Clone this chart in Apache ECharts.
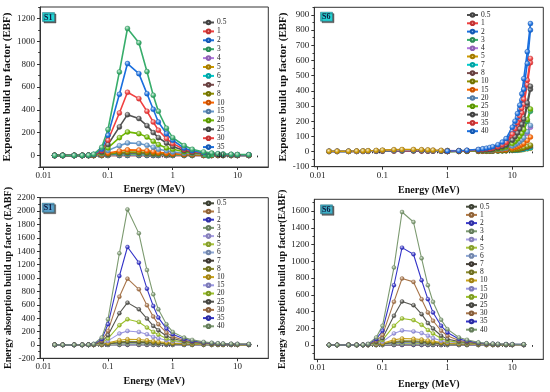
<!DOCTYPE html>
<html><head><meta charset="utf-8">
<script src="https://cdn.jsdelivr.net/npm/echarts@6/dist/echarts.min.js"></script>
<style>html,body{margin:0;padding:0;background:#fff}#c{width:550px;height:392px}</style>
</head><body><div id="c"></div>
<script>
// ---------- energies (MeV) ----------
const energy = [0.015,0.02,0.03,0.04,0.05,0.06,0.08,0.1,0.15,0.2,0.3,0.4,0.5,0.6,0.8,1,1.5,2,3,4,5,6,8,10,15];
const energyS6EBF = [0.015,0.02,0.03,0.04,0.05,0.06,0.08,0.1,0.15,0.2,0.3,0.4,0.5,0.6,0.8,
                     1,1.5,2,3,3.5,4,4.5,5,6,7,8,10,11,12,13,14,15,17,19];
// ---------- legend labels (mfp) ----------
const mfpFull = ['0.5','1','2','3','4','5','6','7','8','10','15','20','25','30','35','40'];
const mfpS6EBF = ['0.5','1','2','3','4','5','7','8','10','15','20','25','30','35','40'];
// ---------- tick labels ----------
const xTickValues = [0.01,0.1,1,10];
const yTicksS1EBF = [0,200,400,600,800,1000,1200];
const yTicksS6EBF = [-100,0,100,200,300,400,500,600,700,800,900];
const yTicksS1EABF = [-200,0,200,400,600,800,1000,1200,1400,1600,1800,2000,2200];
const yTicksS6EABF = [0,200,400,600,800,1000,1200,1400,1600];

// ---------- S1 EBF (rows follow mfpFull) ----------
const S1_EBF = [
 [1,1,1,1.01,1.03,1.06,1.15,1.3,1.4,1.45,1.45,1.42,1.4,1.38,1.35,1.33,1.28,1.25,1.2,1.18,1.16,1.15,1.13,1.12,1.1],
 [1,1,1.01,1.02,1.05,1.12,1.3,1.6,1.8,1.9,1.9,1.85,1.8,1.75,1.7,1.65,1.55,1.5,1.4,1.35,1.3,1.3,1.25,1.2,1.2],
 [1,1,1.02,1.04,1.1,1.25,1.7,2.5,3,3.2,3.2,3.1,3,2.9,2.7,2.5,2.3,2.2,2,1.9,1.8,1.7,1.6,1.5,1.4],
 [1,1,1.03,1.06,1.15,1.4,2.2,3.8,5,5.3,5.3,5.1,4.8,4.5,4.1,3.7,3.2,3,2.7,2.4,2.3,2.1,1.9,1.8,1.7],
 [1,1,1.03,1.08,1.2,1.5,2.8,5.3,7.6,8.2,8.1,7.6,7,6.4,5.6,5,4.2,3.8,3.3,2.9,2.7,2.5,2.2,2.1,1.9],
 [1,1,1.04,1.1,1.25,1.7,3.5,7.3,11,12,11.8,11,9.8,8.8,7.5,6.5,5.2,4.6,3.9,3.4,3.1,2.8,2.5,2.3,2.1],
 [1,1,1.05,1.1,1.3,1.9,4.2,9.5,15,17,16.5,15,13,11.5,9.5,8,6.3,5.5,4.6,3.9,3.5,3.1,2.8,2.6,2.4],
 [1,1,1.05,1.1,1.35,2.1,5,12,20,23,22,20,17,15,12,10,7.5,6.5,5.3,4.5,3.9,3.5,3.1,2.8,2.6],
 [1,1,1.05,1.15,1.4,2.4,6,15,26,31,30,27,23,19,15,12,9,7.5,6,5,4.3,3.9,3.4,3.1,2.8],
 [1,1,1.1,1.2,1.5,3,8,22,40,50,48,42,35,28,22,17,12,10,8,6,5,4.6,4,3.6,3.2],
 [1,1,1.1,1.2,1.7,4,14,45,87,111,105,90,73,56,42,32,21,16,11,9,7,6,5,4.5,4],
 [1,1,1.1,1.3,1.9,5,22,67,157,207,192,163,125,96,67,55,33,23,15,11,9,7,6,5.5,5],
 [1,1,1.1,1.3,2.1,6.5,31,96,251,358,324,262,201,157,110,80,44,29,18,13,10,8,7,6,5.5],
 [1,1,1.1,1.4,2.4,8,42,134,373,554,498,388,294,222,149,105,54,35,21,15,11,9,8,7,6],
 [1,1,1.2,1.4,2.7,10,55,178,536,805,717,542,405,294,192,134,65,42,24,17,13,11,9,8,7],
 [1,1,1.2,1.5,3,12,72,228,732,1112,987,735,528,388,240,157,88,55,32,22,17,14,11,9,8]
];
// ---------- S6 EBF (rows follow mfpS6EBF, null = not plotted) ----------
const S6_EBF = [
 [1,1,1,1.1,1.2,1.4,1.8,2.2,2.6,2.8,2.8,2.6,2.4,2.2,2, 2,2.5,4,7,9,11,13,15,21,28,38,68,90,112,138,165,200,300,410],
 [1,1,1.1,1.2,1.4,1.8,2.5,3.2,4,4.3,4.3,4,3.6,3.2,2.8, 2.8,3,5,9,11,14,17,20,28,39,54,100,135,170,210,255,310,440,585],
 [1,1,1.1,1.3,1.7,2.3,3.4,4.6,6,6.5,6.5,6,5.4,4.8,4, 4,4.5,6,11,14,17,21,26,36,50,70,135,180,225,280,340,410,580,800],
 [1,1,1.2,1.5,2,2.9,4.4,6,8,8.7,8.7,8,7.2,6.3,5.2, 5,4.5,4.5,5,7,8,10,12,15,21,27,48,61,76,93,112,135,198,265],
 [1,1.1,1.3,1.7,2.4,3.5,5.5,7.5,10,11,11,10,9,7.8,6.4, 6,5,4.5,4.5,5,6,7,9,12,15,20,33,41,50,60,72,85,120,160],
 [1.5,1.8,2.2,3,4,5,7,9,12,13,13,12,10.5,9,7.5, 6,5,4,3.5,3.5,3.5,3.5,3.5,4,4.5,5,7,8,9,10,12,14,18,22],
 [null,null,null,null,null,null,null,null,null,null,null,null,null,null,null, 1,1.2,1.5,2,2.5,3,3,3.5,4,5,6,8,9,10,12,14,16,20,25],
 [null,null,null,null,null,null,null,null,null,null,null,null,null,null,null, 1,1.5,2,2.5,3,3,3.5,4,5,6,7,10,12,14,16,19,22,28,35],
 [null,null,null,null,null,null,null,null,null,null,null,null,null,null,null, 1,1.5,2,2.5,3,3.5,4,4.5,5.5,7,8,12,14,16,19,22,26,34,42],
 [null,null,null,null,null,null,null,null,null,null,null,null,null,null,null, 1,1.5,2,3,4,5,6,7,9,11,14,22,27,32,38,45,53,73,95],
 [null,null,null,null,null,null,null,null,null,null,null,null,null,null,null, 1,2,3,5,6,7,8,10,13,17,22,36,45,55,66,78,92,130,172],
 [null,null,null,null,null,null,null,null,null,null,null,null,null,null,null, 1,2,4,6,8,9,11,13,17,23,30,52,66,82,100,120,145,210,280],
 [null,null,null,null,null,null,null,null,null,null,null,null,null,null,null, 2,3,5,8,10,12,14,17,23,31,42,75,98,122,150,180,215,320,430],
 [null,null,null,null,null,null,null,null,null,null,null,null,null,null,null, 2,4,6,10,13,16,19,23,32,44,60,115,150,190,235,285,345,470,613],
 [null,null,null,null,null,null,null,null,null,null,null,null,null,null,null, 3,5,8,14,18,22,27,32,45,62,85,160,200,250,305,380,480,657,843]
];
// ---------- S1 EABF (rows follow mfpFull) ----------
const S1_EABF = [
 [1,1,1,1.01,1.03,1.07,1.2,1.4,1.6,1.7,1.7,1.65,1.6,1.58,1.54,1.5,1.44,1.4,1.35,1.3,1.28,1.26,1.23,1.21,1.19],
 [1,1,1.01,1.02,1.05,1.15,1.4,1.8,2.4,2.6,2.6,2.5,2.4,2.3,2.2,2.1,1.9,1.8,1.7,1.6,1.5,1.5,1.4,1.4,1.3],
 [1,1,1.02,1.04,1.1,1.3,1.9,2.9,4.5,5,4.9,4.7,4.4,4.1,3.8,3.5,3.1,2.8,2.5,2.3,2.1,2,1.9,1.8,1.7],
 [1,1,1.03,1.06,1.15,1.5,2.6,4.5,8,9,8.9,8.3,7.6,7,6.2,5.5,4.6,4.1,3.5,3.1,2.9,2.7,2.4,2.2,2.1],
 [1,1,1.03,1.08,1.2,1.7,3.4,6.5,13,15,14.5,13.5,12,10.5,9,7.8,6.3,5.5,4.6,4,3.6,3.3,2.9,2.7,2.5],
 [1,1,1.04,1.1,1.3,2,4.4,9,19,23,22,20,17.5,15,12.5,10.5,8.2,7,5.8,5,4.4,4,3.5,3.2,2.9],
 [1,1,1.05,1.1,1.35,2.2,5.5,12,27,32,31,27,23,20,16,13,10,8.5,6.8,5.8,5,4.5,3.9,3.5,3.2],
 [1,1,1.05,1.1,1.4,2.5,6.5,16,36,43,41,36,31,26,20,16,12,10,8,6.6,5.7,5,4.4,3.9,3.5],
 [1,1,1.05,1.15,1.5,2.8,8,20,46,55,52,45,38,32,25,20,14,11.5,9,7.5,6.3,5.6,4.8,4.3,3.9],
 [1,1,1.1,1.2,1.6,3.3,11,30,70,85,80,68,56,46,36,28,19,15,11,9,7.5,6.5,5.5,5,4.5],
 [1,1,1.1,1.3,1.8,4.5,20,60,169,209,194,159,119,100,70,55,33,24,16,12,10,9,7,6.5,6],
 [1,1,1.1,1.3,2.1,6,31,95,294,383,343,259,194,154,95,70,42,30,20,15,12,10,9,8,7],
 [1,1,1.1,1.4,2.4,8,45,144,473,632,532,393,284,219,134,95,55,38,25,18,14,12,10,9,8],
 [1,1,1.1,1.5,2.7,10,62,209,721,990,831,592,423,308,184,124,70,48,30,22,17,15,12,11,10],
 [1,1,1.2,1.5,3,12,85,308,1030,1463,1229,841,582,408,244,159,88,60,37,27,21,18,15,13,11],
 [1,1,1.2,1.6,3.5,15,110,383,1368,2025,1667,1119,756,532,308,194,109,75,45,32,25,21,17,15,13]
];
// ---------- S6 EABF (rows follow mfpFull) ----------
const S6_EABF = [
 [1,1,1,1.01,1.03,1.07,1.2,1.35,1.6,1.7,1.7,1.65,1.6,1.58,1.54,1.5,1.44,1.4,1.35,1.3,1.28,1.26,1.23,1.21,1.19],
 [1,1,1.01,1.02,1.05,1.14,1.4,1.7,2.4,2.6,2.6,2.5,2.4,2.3,2.2,2.1,1.9,1.8,1.7,1.6,1.5,1.5,1.4,1.4,1.3],
 [1,1,1.02,1.04,1.1,1.28,1.9,2.7,4.5,5,4.9,4.7,4.4,4.1,3.8,3.5,3.1,2.9,2.6,2.4,2.2,2.1,1.9,1.8,1.7],
 [1,1,1.03,1.06,1.15,1.45,2.6,4.1,8,9.2,9,8.5,7.8,7.1,6.2,5.5,4.6,4.2,3.6,3.2,2.9,2.7,2.5,2.3,2.1],
 [1,1,1.03,1.08,1.2,1.6,3.3,5.7,13,15.5,15,14,12.5,11,9.3,8,6.5,5.7,4.8,4.2,3.7,3.4,3,2.8,2.6],
 [1,1,1.04,1.1,1.25,1.8,4.2,7.5,19,23,22.5,20.5,18,15.8,12.8,10.7,8.3,7.2,5.9,5,4.4,4,3.5,3.2,2.9],
 [1,1,1.05,1.1,1.3,2.1,5.2,10,26,32,31,28,24.5,21,16.5,13.5,10.2,8.6,6.9,5.8,5,4.5,3.9,3.6,3.2],
 [1,1,1.05,1.1,1.35,2.3,6.3,12,33,41,40,36,31,26,20,16,12,9.8,7.8,6.4,5.5,5,4.3,3.9,3.5],
 [1,1,1.05,1.15,1.4,2.6,7.5,15,42,52,50,45,38,32,24,19,13.5,11,8.5,7,6,5.4,4.6,4.2,3.8],
 [1,1,1.1,1.2,1.5,3,10,22,62,78,74,66,54,44,32,25,17,13,10,8,6.8,6,5.2,4.7,4.2],
 [1,1,1.1,1.2,1.7,4.2,17,40,139,175,163,143,111,83,52,40,24,18,13,10,8.5,7.5,6.3,5.7,5.2],
 [1,1,1.1,1.3,1.9,5.5,26,60,230,318,298,242,179,139,79,52,32,24,16,12,10,8.5,7,6.5,6],
 [1,1,1.1,1.3,2.1,7,36,80,349,520,476,369,262,198,111,71,42,31,19,14,11,9.5,8,7,6.5],
 [1,1,1.1,1.4,2.4,9,50,119,516,794,754,548,389,290,171,111,55,40,22,16,13,11,9,8,7],
 [1,1,1.2,1.4,2.7,11,70,171,714,1163,1084,774,548,389,230,151,72,50,27,19,15,12,10,9,8],
 [1,1,1.2,1.5,3,14,90,230,925,1588,1469,1036,714,516,302,190,91,63,32,22,17,14,11,10,9]
];

// ---------- colours ----------
const originPalette = ['#515151','#F14040','#1A6FDF','#37AD6B','#B177DE','#CC9900','#00CBCC','#7D4E4E','#8E8E00','#FB6501','#6699CC','#6FB802'];
const eabfPalette = ['#4b5040','#b27a45','#3b3bcc','#7d9a72','#a79fe6','#a8c43a','#8fa8d6','#4a443c','#8a8a2a','#c9a21a','#9b98e3','#9cc22a','#55554f','#a8754a','#3434c8','#7c9a70'];

function mix(hex, t, target){
  const n = parseInt(hex.slice(1),16), r=(n>>16)&255, g=(n>>8)&255, b=n&255;
  const m = v => Math.round(v + (target - v)*t);
  return 'rgb('+m(r)+','+m(g)+','+m(b)+')';
}
const serif = 'Liberation Serif, Times New Roman, serif';

const grids = [
  {left:40, top:7, width:228.3, height:160},
  {left:314.3, top:7.3, width:229, height:159.4},
  {left:40, top:197.7, width:228.3, height:160.6},
  {left:314.3, top:199.3, width:229, height:160}
];
const yRanges = [[-100,1300],[-100,950],[-200,2200],[-170,1740]];
const yMajor = [yTicksS1EBF, yTicksS6EBF, yTicksS1EABF, yTicksS6EABF];
const yMinorStep = [200,100,200,200];
const yNames = ['Exposure build up factor (EBF)','Exposure build up factor (EBF)','Energy absorption build up factor (EABF)','Energy absorption build up factor(EABF)'];
const yNameSize = [11,11,10,10];
const yNameGap = [26,25.5,27,27];
const xNameGap = [17,19,18.4,20.4];

const xMinor = [];
[0.01,0.1,1,10].forEach(d=>{ for(let k=2;k<=9;k++){ const v=+(d*k).toPrecision(3); if(v<30) xMinor.push(v);} });

const xAxes = [], yAxes = [], yMinorLists = [];
grids.forEach((g,i)=>{
  xAxes.push({type:'log', gridIndex:i, min:0.0089, max:30, logBase:10,
    name:'Energy (MeV)', nameLocation:'middle', nameGap:xNameGap[i],
    nameTextStyle:{fontFamily:serif, fontWeight:'bold', fontSize:10, color:'#111'},
    axisLine:{show:true, onZero:false, lineStyle:{color:'#333', width:1}},
    axisTick:{show:true, length:3, customValues:xTickValues, lineStyle:{color:'#333'}},
    axisLabel:{customValues:xTickValues, formatter:v=>String(v), fontFamily:serif, fontSize:9, color:'#222', margin:4},
    splitLine:{show:false}});
  const mi=[]; const st=yMinorStep[i]/2;
  for(let v=Math.ceil(yRanges[i][0]/st)*st; v<=yRanges[i][1]; v+=st){ if(!yMajor[i].includes(v)) mi.push(v); }
  yMinorLists.push(mi);
  yAxes.push({type:'value', gridIndex:i, min:yRanges[i][0], max:yRanges[i][1],
    name:yNames[i], nameLocation:'middle', nameRotate:90, nameGap:yNameGap[i],
    nameTextStyle:{fontFamily:serif, fontWeight:'bold', fontSize:yNameSize[i], color:'#111'},
    axisLine:{show:true, onZero:false, lineStyle:{color:'#333', width:1}},
    axisTick:{show:true, length:3, customValues:yMajor[i], lineStyle:{color:'#333'}},
    axisLabel:{customValues:yMajor[i], formatter:v=>String(v), fontFamily:serif, fontSize:9, color:'#222', margin:5},
    splitLine:{show:false}});
});
// minor tick axes
grids.forEach((g,i)=>{
  xAxes.push({type:'log', gridIndex:i, min:0.0089, max:30, position:'bottom',
    axisLine:{show:false}, axisLabel:{show:false}, splitLine:{show:false},
    axisTick:{show:true, length:1.8, customValues:xMinor, lineStyle:{color:'#333'}}});
  yAxes.push({type:'value', gridIndex:i, min:yRanges[i][0], max:yRanges[i][1], position:'left',
    axisLine:{show:false}, axisLabel:{show:false}, splitLine:{show:false},
    axisTick:{show:true, length:1.8, customValues:yMinorLists[i], lineStyle:{color:'#333'}}});
});

const series = [];
function addPanel(p, labels, xs, rows, palette, lw, ss){
  labels.forEach((lab,i)=>{
    const c = palette[i % palette.length];
    const data = [];
    xs.forEach((x,j)=>{ const v = rows[i][j]; if(v!=null) data.push([x,v]); });
    series.push({type:'line', name:'p'+p+'|'+lab, xAxisIndex:p, yAxisIndex:p, data,
      symbol:'circle', symbolSize:ss, animation:false, silent:true,
      lineStyle:{color:c, width:lw},
      itemStyle:{color:{type:'radial', x:0.4, y:0.35, r:0.75, colorStops:[{offset:0,color:mix(c,0.8,255)},{offset:0.55,color:c},{offset:1,color:mix(c,0.15,0)}]},
        borderColor:mix(c,0.2,0), borderWidth:0.4}});
  });
}
addPanel(0, mfpFull, energy, S1_EBF, originPalette, 1.6, 5);
addPanel(1, mfpS6EBF, energyS6EBF, S6_EBF, originPalette, 1.6, 5);
addPanel(2, mfpFull, energy, S1_EABF, eabfPalette, 1.1, 4);
addPanel(3, mfpFull, energy, S6_EABF, eabfPalette, 1.1, 4);

const legendPos = [[202,18.5,0.9],[466,11,0.3],[202,199.3,0.2],[465,202.7,0.2]];
const legendLabels = [mfpFull, mfpS6EBF, mfpFull, mfpFull];
const legends = legendPos.map((lp,i)=>({
  orient:'vertical', left:lp[0], top:lp[1], padding:0, itemGap:lp[2], itemWidth:11, itemHeight:4.5,
  selectedMode:false, data:legendLabels[i].map(l=>'p'+i+'|'+l),
  formatter:n=>n.split('|')[1],
  textStyle:{fontFamily:serif, fontSize:7.5, lineHeight:8, height:8, color:'#222', padding:[0,0,0,-2]}
}));

const labelBoxes = [
  ['S1',42,12,'#22d6d6'],['S6',320,11.7,'#22d2d2'],['S1',41.7,202.7,'#5aa2cc'],['S6',320,204.3,'#3fb0c8']
];
const titles = labelBoxes.map(b=>({text:b[0], left:b[1], top:b[2], padding:[1,2,0,2], backgroundColor:b[3],
  borderColor:'#2a6a7a', borderWidth:0.5, shadowColor:'rgba(40,40,40,0.7)', shadowOffsetX:1.5, shadowOffsetY:1.5, shadowBlur:0,
  textStyle:{fontFamily:serif, fontWeight:'bold', fontSize:8, color:'#101a40', lineHeight:9}}));

const chart = echarts.init(document.getElementById('c'), null, {renderer:'canvas'});
chart.setOption({
  backgroundColor:'#fff', animation:false,
  title:titles,
  grid:grids.map(g=>Object.assign({show:true, borderColor:'#333', borderWidth:1, containLabel:false}, g)),
  xAxis:xAxes, yAxis:yAxes, legend:legends, series
});
</script></body></html>
